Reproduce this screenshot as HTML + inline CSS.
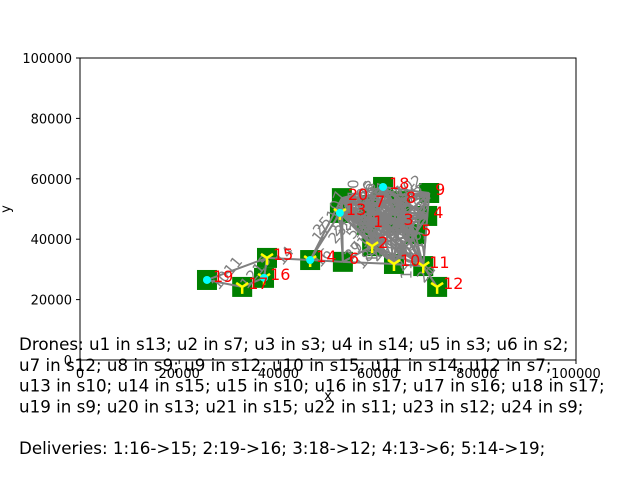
<!DOCTYPE html>
<html><head><meta charset="utf-8"><style>
body{margin:0;background:#fff;width:640px;height:480px;overflow:hidden}
svg{font-family:"DejaVu Sans","Liberation Sans",sans-serif}
</style></head><body>
<svg id="chart" width="640" height="480">
<g id="plot"></g>
<g id="axes"></g>
<g id="info"></g>
</svg>
<script>
const stationIds=[1,2,3,4,5,6,7,8,9,10,11,12,13,14,15,16,17,18,19,20];
const stationX=[57900,58900,64000,70000,67600,53000,58300,64500,70400,63300,69200,72000,52400,46400,37700,37100,32700,61100,25600,52800];
const stationY=[44700,37700,45400,47700,41700,32500,51300,52600,55300,31800,31100,24200,48700,33100,33800,27200,24200,57300,26500,53600];
const droneDots=[19,16,14,13,18];
const droneYs=[17,15,14,13,2,10,11,12,16];
const edgesA=[19,19,17,16,15,15,14,14,6,6,10,11,2,13,20,14,12,2];
const edgesB=[17,15,16,15,14,16,6,13,10,2,11,12,10,6,6,20,11,6];
const cluster=[1,2,3,4,5,7,8,9,13,18,20,10,11];
const xTicks=[0,20000,40000,60000,80000,100000];
const yTicks=[0,20000,40000,60000,80000,100000];
const L=80,R=576,T=58,B=360;
const sx=v=>L+(v/100000)*(R-L), sy=v=>B-(v/100000)*(B-T);
const NS="http://www.w3.org/2000/svg";
function mk(tag,attrs,parent,txt){const e=document.createElementNS(NS,tag);for(const k in attrs)e.setAttribute(k,attrs[k]);if(txt!==undefined)e.textContent=txt;parent.appendChild(e);return e;}
const plot=document.getElementById('plot'),axes=document.getElementById('axes'),info=document.getElementById('info');
const idx=id=>stationIds.indexOf(id);
const px=id=>sx(stationX[idx(id)]), py=id=>sy(stationY[idx(id)]);
// stations
stationIds.forEach((id,i)=>{
  const r=mk('rect',{x:sx(stationX[i])-10,y:sy(stationY[i])-10,width:20,height:20,fill:'#008000'},plot);
  
  
});
// edges
let en=0;
for(let i=0;i<edgesA.length;i++){
  const l=mk('line',{x1:px(edgesA[i]),y1:py(edgesA[i]),x2:px(edgesB[i]),y2:py(edgesB[i]),stroke:'#808080','stroke-width':2},plot);
  
  
  const cx=(px(edgesA[i])+px(edgesB[i]))/2,cy=(py(edgesA[i])+py(edgesB[i]))/2;
  const t=mk('text',{x:cx,y:cy,fill:'#808080','font-size':15,'text-anchor':'middle',transform:`rotate(-50 ${cx} ${cy})`},plot,String(10+en++));
  
  
}
for(let i=0;i<cluster.length;i++)for(let j=i+1;j<cluster.length;j++){
  const a=cluster[i],b=cluster[j];
  const l=mk('line',{x1:px(a),y1:py(a),x2:px(b),y2:py(b),stroke:'#808080','stroke-width':2},plot);
  
  
  const f=0.3+((i*7+j*3)%5)*0.1;
  const cx=px(a)+(px(b)-px(a))*f,cy=py(a)+(py(b)-py(a))*f;
  const t=mk('text',{x:cx,y:cy,fill:'#808080','font-size':15,'text-anchor':'middle',transform:`rotate(${-30-((i+j)%4)*20} ${cx} ${cy})`},plot,String(20+en++));
  
  
}
droneYs.forEach(id=>{
  const x=px(id),y=py(id);
  const g=mk('path',{d:`M${x} ${y}L${x} ${y+7}M${x} ${y}L${x-6} ${y-4}M${x} ${y}L${x+6} ${y-4}`,stroke:'#ffff00','stroke-width':2.5,fill:'none'},plot);
  
  
});
droneDots.forEach(id=>{
  const c=mk('circle',{cx:px(id),cy:py(id),r:4,fill:'#00ffff'},plot);
  
  
});
stationIds.forEach((id,i)=>{
  const t=mk('text',{x:sx(stationX[i])+6,y:sy(stationY[i])+2,fill:'#ff0000','font-size':16},plot,String(id));
  
  
});
// axes
const fr=mk('rect',{x:L,y:T,width:R-L,height:B-T,fill:'none',stroke:'#000','stroke-width':1},axes);


xTicks.forEach(v=>{
  mk('line',{x1:sx(v),x2:sx(v),y1:B,y2:B+4,stroke:'#000'},axes);
  const t=mk('text',{x:sx(v),y:B+18,'font-size':13,'text-anchor':'middle'},axes,String(v));
  
  
});
yTicks.forEach(v=>{
  mk('line',{x1:L-4,x2:L,y1:sy(v),y2:sy(v),stroke:'#000'},axes);
  const t=mk('text',{x:L-8,y:sy(v)+5,'font-size':13,'text-anchor':'end'},axes,String(v));
  
  
});
const xt=mk('text',{x:328,y:400,'font-size':13,'text-anchor':'middle'},axes,'x');


const yt=mk('text',{x:10,y:209,'font-size':13,'text-anchor':'middle',transform:'rotate(-90 10 209)'},axes,'y');


const lines=["Drones: u1 in s13; u2 in s7; u3 in s3; u4 in s14; u5 in s3; u6 in s2;","u7 in s12; u8 in s9; u9 in s12; u10 in s15; u11 in s14; u12 in s7;","u13 in s10; u14 in s15; u15 in s10; u16 in s17; u17 in s16; u18 in s17;","u19 in s9; u20 in s13; u21 in s15; u22 in s11; u23 in s12; u24 in s9;","","Deliveries: 1:16->15; 2:19->16; 3:18->12; 4:13->6; 5:14->19;"];
lines.forEach((s,i)=>{
  if(!s)return;
  const t=mk('text',{x:19,y:350+i*20.8,'font-size':16.7},info,s);
  
  
});
</script>
</body></html>
